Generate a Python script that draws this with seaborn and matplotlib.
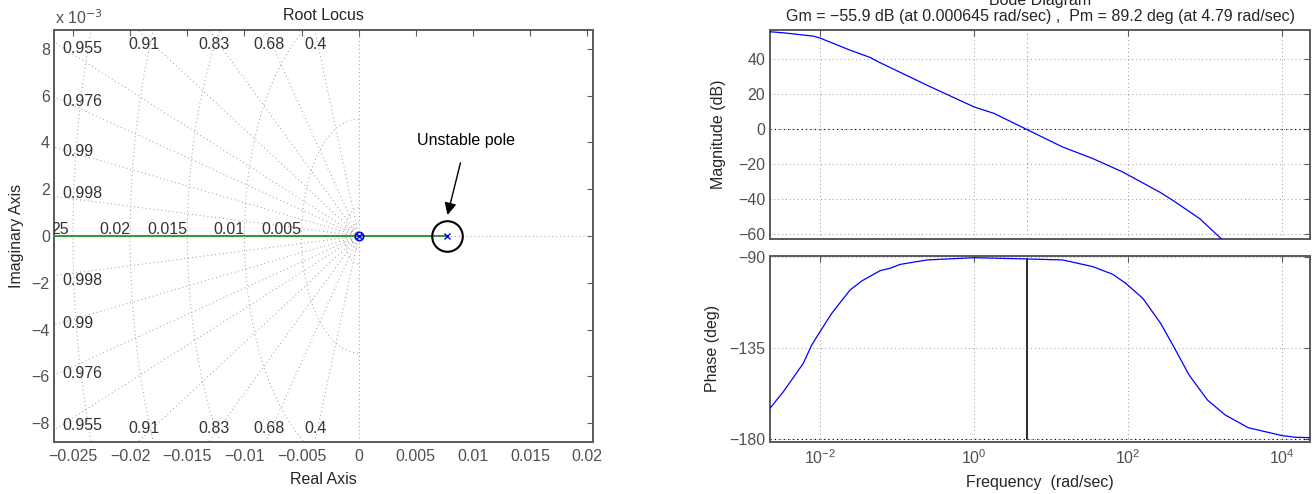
import numpy as np
import pandas as pd
import matplotlib
matplotlib.use("Agg")
import matplotlib.pyplot as plt
import seaborn as sns
from matplotlib.ticker import FixedLocator, FuncFormatter, NullLocator

# ---------------- data ----------------
# Root locus (s-plane)
locus_re = [-0.0300, 0.0077]
locus_im = [0.0, 0.0]
pole_re = [0.0, 0.0077]
pole_im = [0.0, 0.0]
zero_re = [0.0]
zero_im = [0.0]
damping = [0.4, 0.68, 0.83, 0.91, 0.955, 0.976, 0.99, 0.998]
wn_circles = [0.0006, 0.0012, 0.005, 0.01, 0.015, 0.02, 0.025]
wn_labels = ["25", "0.02", "0.015", "0.01", "0.005"]
zeta_top_labels = ["0.91", "0.83", "0.68", "0.4"]
zeta_side_labels = ["0.955", "0.976", "0.99", "0.998"]
rl_xticks = [-0.025, -0.02, -0.015, -0.01, -0.005, 0, 0.005, 0.01, 0.015, 0.02]
rl_yticks = [-0.008, -0.006, -0.004, -0.002, 0, 0.002, 0.004, 0.006, 0.008]

# Bode magnitude
mag_w = [0.00224, 0.00334, 0.00818, 0.0100, 0.0245, 0.0447, 0.0603, 0.243, 1.00,
         1.82, 4.79, 14.1, 34.7, 85.1, 257, 380, 851, 1700]
mag_db = [55.8, 55.2, 53.3, 52.2, 45.3, 41.1, 38.1, 25.3, 12.8,
          9.1, 0.0, -10.1, -16.7, -24.4, -35.9, -40.6, -51.1, -63.5]
# Bode phase
ph_w = [0.00224, 0.00334, 0.00608, 0.0078, 0.0100, 0.0142, 0.0245, 0.0348, 0.0603,
        0.0813, 0.110, 0.245, 1.00, 4.79, 14.1, 34.7, 63.1, 93.3, 155, 263, 380,
        617, 1070, 1820, 3630, 10000, 14800, 22900]
ph_deg = [-164.7, -156.5, -142.4, -133.4, -126.8, -117.7, -106.2, -101.7, -96.6,
          -95.4, -93.5, -91.3, -90.2, -90.8, -91.3, -94.6, -98.4, -102.9, -110.3, -122.6, -133.4,
          -148.2, -160.6, -168.0, -174.3, -178.2, -179.0, -179.2]
pm_freq = 4.79
pm_phase = -90.8
mag_yticks = [-60, -40, -20, 0, 20, 40]
ph_yticks = [-180, -135, -90]
bode_xticks = [1e-2, 1e0, 1e2, 1e4]

# ---------------- style ----------------
sns.set_theme(style="white")
plt.rcParams["font.family"] = ["Liberation Sans", "DejaVu Sans"]
plt.rcParams["axes.unicode_minus"] = True
FS = 11.5

W, H = 1315, 494
fig = plt.figure(figsize=(W / 100, H / 100), dpi=100)

def box(l, t, r, b):
    return [l / W, 1 - b / H, (r - l) / W, (b - t) / H]

SPINE = "#5a5a5a"
TICKC = "#505050"
GRIDC = "#9a9a9a"
DOT = (0, (1, 3))

def style_axes(ax):
    for s in ax.spines.values():
        s.set_color(SPINE)
        s.set_linewidth(1.4)
    ax.tick_params(which="major", direction="in", top=True, right=True, length=4,
                   width=0.8, color=SPINE, labelcolor=TICKC, labelsize=FS)

def mfmt(v, p):
    return ("%g" % v).replace("-", "\u2212")

# ---------------- Root locus ----------------
ax = fig.add_axes(box(54, 30, 593, 442))
xmin, xmax = -0.02666, 0.0205
ymin, ymax = -0.0088, 0.0088
R = 0.06
for z in damping:
    s = np.sqrt(1 - z ** 2)
    for sg in (1, -1):
        ax.plot([0, -z * R], [0, sg * s * R], color=GRIDC, lw=0.7, ls=DOT, zorder=1)
th = np.linspace(np.pi / 2, 3 * np.pi / 2, 400)
for r in wn_circles:
    ax.plot(r * np.cos(th), r * np.sin(th), color=GRIDC, lw=0.7, ls=DOT, zorder=1)
ax.axvline(0, color=GRIDC, lw=0.7, ls=DOT, zorder=1)
ax.axhline(0, color=GRIDC, lw=0.7, ls=DOT, zorder=1)

sns.lineplot(x=locus_re, y=locus_im, ax=ax, color="#2f9a2f", lw=1.4, zorder=3)
ax.plot(zero_re, zero_im, "o", mfc="none", mec="blue", ms=6, mew=1.2, zorder=4)
ax.plot(pole_re, pole_im, "x", color="blue", ms=5, mew=1.0, zorder=4)
# annotation circle around unstable pole
ax.plot([pole_re[1]], [pole_im[1]], "o", mfc="none", mec="black", ms=22, mew=1.5, zorder=5)
ax.annotate("Unstable pole", xy=(0.00777, 0.0009), xytext=(0.0094, 0.0041),
            ha="center", va="center", fontsize=FS, color="black",
            arrowprops=dict(arrowstyle="-|>", color="black", lw=1.0,
                            mutation_scale=18, shrinkA=9, shrinkB=0))

# wn labels on negative real axis
wn_x = [-0.0254, -0.02, -0.015, -0.01, -0.005]
for lab, xx in zip(wn_labels, wn_x):
    ax.text(xx, 0.00028, lab, ha="right", va="center", fontsize=FS,
            color="#333333", clip_on=True)
# damping labels top / bottom
top_x = [-0.02016, -0.01405, -0.00925, -0.00471]
for lab, xx in zip(zeta_top_labels, top_x):
    ax.text(xx, 0.00816, lab, ha="left", va="center", fontsize=FS, color="#333333")
    ax.text(xx, -0.00822, lab, ha="left", va="center", fontsize=FS, color="#333333")
side_y = [0.00803, 0.00574, 0.0036, 0.00182]
side_yb = [-0.00808, -0.00587, -0.00373, -0.00188]
for lab, yy, yb in zip(zeta_side_labels, side_y, side_yb):
    ax.text(-0.0259, yy, lab, ha="left", va="center", fontsize=FS, color="#333333")
    ax.text(-0.0259, yb, lab, ha="left", va="center", fontsize=FS, color="#333333")

ax.set_xlim(xmin, xmax)
ax.set_ylim(ymin, ymax)
ax.xaxis.set_major_locator(FixedLocator(rl_xticks))
ax.yaxis.set_major_locator(FixedLocator(rl_yticks))
ax.xaxis.set_major_formatter(FuncFormatter(mfmt))
ax.yaxis.set_major_formatter(FuncFormatter(lambda v, p: mfmt(round(v * 1e3), p)))
ax.set_xlabel("")
ax.set_ylabel("")
style_axes(ax)
ax.tick_params(axis="x", pad=5)
ax.tick_params(axis="y", pad=3)

fig.text(55 / W, 1 - 18 / H, "x 10$^{-3}$", ha="left", va="center", fontsize=FS, color=TICKC)
fig.text(323.5 / W, 1 - 15 / H, "Root Locus", ha="center", va="center", fontsize=FS)
fig.text(323.5 / W, 1 - 479 / H, "Real Axis", ha="center", va="center", fontsize=FS)
fig.text(17 / W, 1 - 236 / H, "Imaginary Axis", ha="center", va="center", fontsize=FS, rotation=90)

# ---------------- Bode magnitude ----------------
wlim = (10 ** -2.649, 10 ** 4.36)
axm = fig.add_axes(box(770, 30, 1310, 239))
df_m = pd.DataFrame({"w": mag_w, "db": mag_db})
sns.lineplot(data=df_m, x="w", y="db", ax=axm, color="blue", lw=0.9, zorder=3)
axm.set_xscale("log")
axm.set_xlim(*wlim)
axm.set_ylim(-62.7, 56.8)
axm.yaxis.set_major_locator(FixedLocator(mag_yticks))
axm.yaxis.set_major_formatter(FuncFormatter(mfmt))
axm.xaxis.set_major_locator(FixedLocator(bode_xticks))
axm.xaxis.set_minor_locator(NullLocator())
axm.set_xticklabels([])
axm.grid(True, which="major", color=GRIDC, lw=0.7, ls=DOT)
axm.axhline(0, color="black", lw=0.8, ls=DOT, zorder=2)
axm.axvline(pm_freq, color=GRIDC, lw=0.8, ls=DOT, zorder=2)
axm.set_xlabel("")
axm.set_ylabel("")
style_axes(axm)

# ---------------- Bode phase ----------------
axp = fig.add_axes(box(770, 255.7, 1310, 441.7))
df_p = pd.DataFrame({"w": ph_w, "deg": ph_deg})
sns.lineplot(data=df_p, x="w", y="deg", ax=axp, color="blue", lw=0.9, zorder=3)
axp.set_xscale("log")
axp.set_xlim(*wlim)
axp.set_ylim(-181.2, -89.2)
axp.yaxis.set_major_locator(FixedLocator(ph_yticks))
axp.yaxis.set_major_formatter(FuncFormatter(mfmt))
axp.xaxis.set_major_locator(FixedLocator(bode_xticks))
axp.xaxis.set_minor_locator(NullLocator())
axp.grid(True, which="major", color=GRIDC, lw=0.7, ls=DOT)
axp.axhline(-180, color="black", lw=0.8, ls=DOT, zorder=2)
axp.plot([pm_freq, pm_freq], [-180, pm_phase], color="#333333", lw=1.5, zorder=4)
axp.set_xlabel("")
axp.set_ylabel("")
style_axes(axp)
axp.tick_params(axis="x", pad=5)

fig.text(1040 / W, 1 - 0 / H, "Bode Diagram", ha="center", va="center", fontsize=FS)
fig.text(1040 / W, 1 - 16 / H,
         "Gm = \u221255.9 dB (at 0.000645 rad/sec) ,  Pm = 89.2 deg (at 4.79 rad/sec)",
         ha="center", va="center", fontsize=FS)
fig.text(719 / W, 1 - 134.5 / H, "Magnitude (dB)", ha="center", va="center", fontsize=FS, rotation=90)
fig.text(713 / W, 1 - 348.7 / H, "Phase (deg)", ha="center", va="center", fontsize=FS, rotation=90)
fig.text(1040 / W, 1 - 482 / H, "Frequency  (rad/sec)", ha="center", va="center", fontsize=FS)

fig.savefig("out.png", dpi=100)
